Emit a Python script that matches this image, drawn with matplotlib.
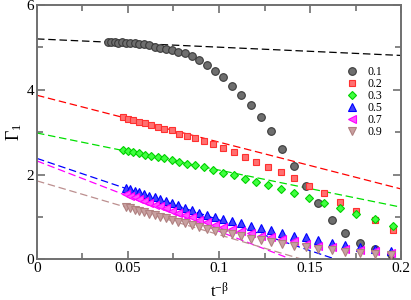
import numpy as np
import matplotlib
matplotlib.use('Agg')
import matplotlib.pyplot as plt

plt.rcParams['font.family'] = 'Liberation Serif'
plt.rcParams['mathtext.fontset'] = 'stix'

# x positions (t^-beta)
x_a = [0.0390, 0.0408, 0.0427, 0.0447, 0.0468, 0.0490, 0.0513, 0.0537, 0.0563, 0.0589,
       0.0617, 0.0646, 0.0676, 0.0708, 0.0741, 0.0776, 0.0813, 0.0851, 0.0891, 0.0933,
       0.0977, 0.1023, 0.1071, 0.1121, 0.1174, 0.1229, 0.1287, 0.1347, 0.1410, 0.1477,
       0.1546, 0.1619, 0.1695, 0.1774, 0.1858, 0.1945]
x_b = [0.0474, 0.0501, 0.0529, 0.0562, 0.0593, 0.0626, 0.0663, 0.0699, 0.0740, 0.0781,
       0.0822, 0.0868, 0.0917, 0.0968, 0.1023, 0.1083, 0.1142, 0.1203, 0.1267, 0.1341,
       0.1413, 0.1495, 0.1576, 0.1664, 0.1755, 0.1856, 0.1956]
x_c = x_a[5:]

y_01 = [5.12, 5.12, 5.12, 5.11, 5.12, 5.11, 5.10, 5.10, 5.09, 5.07,
        5.05, 5.02, 4.99, 4.96, 4.93, 4.90, 4.86, 4.79, 4.70, 4.59,
        4.45, 4.29, 4.08, 3.87, 3.65, 3.35, 3.02, 2.61, 2.19, 1.74,
        1.32, 0.93, 0.63, 0.39, 0.24, 0.12]
y_02 = [3.35, 3.32, 3.29, 3.25, 3.21, 3.16, 3.13, 3.08, 3.04, 2.96,
        2.90, 2.86, 2.78, 2.72, 2.62, 2.52, 2.41, 2.29, 2.17, 2.05,
        1.91, 1.74, 1.56, 1.35, 1.14, 0.92, 0.69]
y_03 = [2.57, 2.55, 2.52, 2.50, 2.47, 2.44, 2.41, 2.38, 2.34, 2.30,
        2.26, 2.22, 2.17, 2.11, 2.04, 1.98, 1.90, 1.82, 1.75, 1.66,
        1.56, 1.44, 1.34, 1.20, 1.07, 0.95, 0.79]
y_05 = [1.68, 1.65, 1.61, 1.58, 1.54, 1.50, 1.46, 1.42, 1.37, 1.32,
        1.27, 1.22, 1.16, 1.10, 1.04, 0.99, 0.95, 0.90, 0.85, 0.79,
        0.73, 0.68, 0.62, 0.56, 0.52, 0.46, 0.39, 0.34, 0.30, 0.24, 0.20]
y_07 = [1.54, 1.50, 1.46, 1.42, 1.38, 1.34, 1.29, 1.25, 1.20, 1.15,
        1.10, 1.04, 0.99, 0.93, 0.87, 0.81, 0.76, 0.71, 0.67, 0.61,
        0.56, 0.52, 0.47, 0.42, 0.37, 0.32, 0.28, 0.25, 0.23, 0.20, 0.16]
y_09 = [1.23, 1.20, 1.17, 1.14, 1.11, 1.07, 1.04, 1.00, 0.97, 0.93,
        0.89, 0.85, 0.80, 0.76, 0.71, 0.67, 0.63, 0.59, 0.54, 0.49,
        0.45, 0.41, 0.37, 0.32, 0.28, 0.24, 0.21, 0.18, 0.16, 0.13, 0.10]

labels = ['0.1', '0.2', '0.3', '0.5', '0.7', '0.9']
# linear fits: intercept, slope
fit_a = [5.20, 3.87, 2.98, 2.38, 2.32, 1.85]
fit_b = [-1.95, -11.05, -8.75, -14.5, -16.6, -12.7]

xs = [x_a, x_b, x_b, x_c, x_c, x_c]
ys = [y_01, y_02, y_03, y_05, y_07, y_09]
markers = ['o', 's', 'D', '^', '<', 'v']
sizes = [5.5, 5, 4.5, 5.5, 5.5, 5.5]
line_col = ['black', 'red', '#00e000', 'blue', '#ff00ff', '#bc8f8f']
face_col = ['#6e6e6e', '#ff7070', '#40ff40', '#4040ff', '#ff50ff', '#c8a0a0']
edge_col = ['#3a3a3a', '#ff3030', '#00d000', '#0000ff', '#ff00ff', '#b08080']

fig = plt.figure(figsize=(4.11, 3.0), dpi=100)
ax = fig.add_axes([0.090, 0.1357, 0.8857, 0.8476])

xf = np.array([0.0, 0.2])
for i in range(6):
    ax.plot(xf, fit_a[i] + fit_b[i] * xf, linestyle=(0, (6, 3)), color=line_col[i],
            linewidth=0.9, zorder=2)
for i in range(6):
    ax.plot(xs[i], ys[i], linestyle='none', marker=markers[i], markersize=sizes[i],
            markerfacecolor=face_col[i], markeredgecolor=edge_col[i],
            markeredgewidth=0.8, label=labels[i], zorder=3)

ax.set_xlim(0, 0.2)
ax.set_ylim(0, 6)
ax.set_xticks([0, 0.05, 0.1, 0.15, 0.2])
ax.set_xticklabels(['0', '0.05', '0.1', '0.15', '0.2'])
ax.set_xticks([0.025, 0.075, 0.125, 0.175], minor=True)
ax.set_yticks([0, 2, 4, 6])
ax.set_yticks([1, 3, 5], minor=True)
ax.tick_params(which='both', direction='in', top=True, right=True, color='#707070',
               labelsize=11, pad=2)
ax.tick_params(which='major', length=6, width=1.2)
ax.tick_params(which='minor', length=4, width=1.2)
for s in ax.spines.values():
    s.set_color('#707070')
    s.set_linewidth(1.4)

ax.set_xlabel(r'$\mathregular{t^{-\beta}}$', fontsize=12, labelpad=5)
ax.set_ylabel(r'$\mathregular{\Gamma_1}$', fontsize=13, labelpad=2)

ax.legend(loc='center left', bbox_to_anchor=(0.849, 0.617), frameon=False,
          fontsize=8.5, handlelength=1.0, handletextpad=0.8, labelspacing=0.0,
          borderaxespad=0, borderpad=0)

fig.savefig('out.png', dpi=100)
